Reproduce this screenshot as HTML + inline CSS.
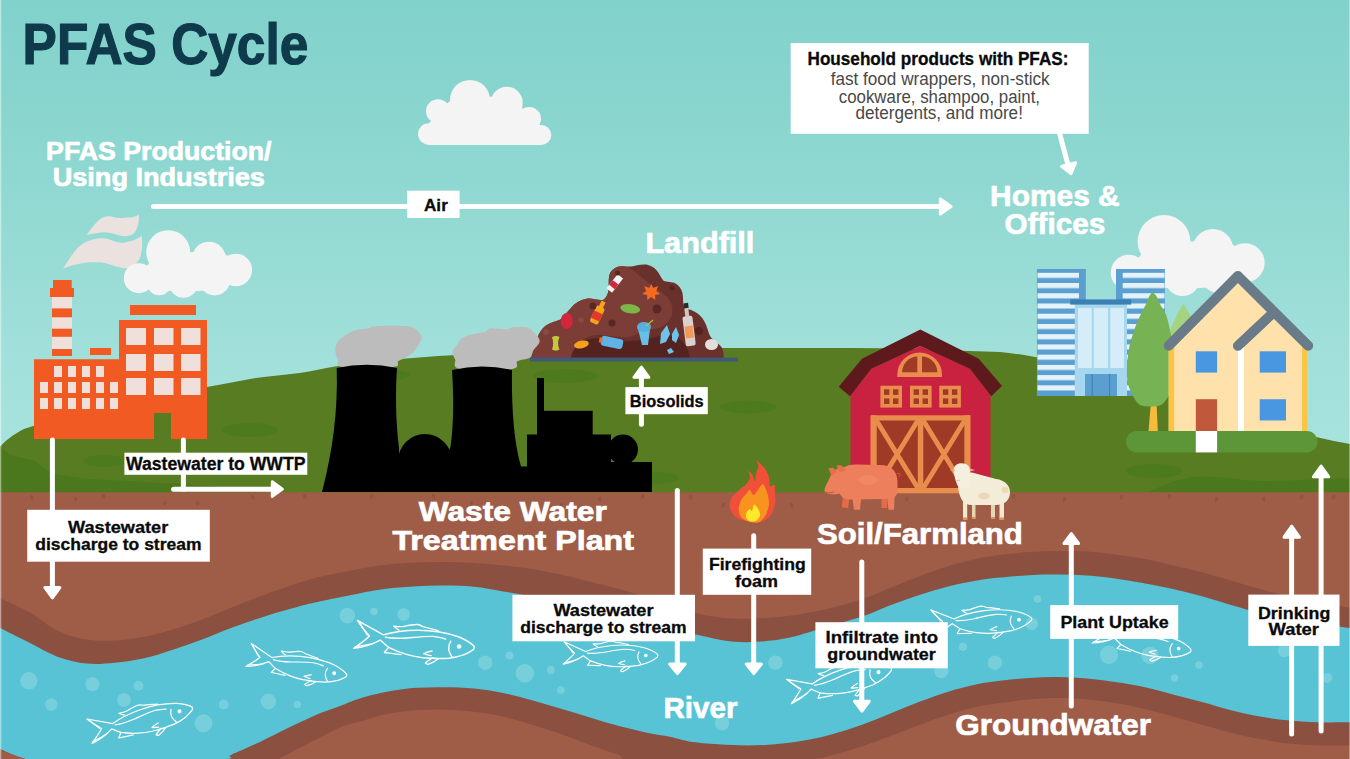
<!DOCTYPE html>
<html>
<head>
<meta charset="utf-8">
<title>PFAS Cycle</title>
<style>
html,body{margin:0;padding:0;background:#8fd8d2;}
body{width:1350px;height:759px;overflow:hidden;font-family:"Liberation Sans",sans-serif;}
svg{display:block;position:absolute;left:0;top:0;}
text{font-family:"Liberation Sans",sans-serif;}
.wb{font-weight:bold;fill:#fff;stroke:#fff;stroke-width:0.7;}
.kb{font-weight:bold;fill:#0a0a0a;stroke:#0a0a0a;stroke-width:0.3;}
.lt{fill:#484848;}
.ar{stroke:#fff;stroke-width:5;fill:none;stroke-linecap:round;}
.ah{fill:#fff;stroke:#fff;stroke-width:3;stroke-linejoin:round;}
</style>
</head>
<body>
<svg width="1350" height="759" viewBox="0 0 1350 759">
<defs>
<linearGradient id="sky" x1="0" y1="0" x2="0" y2="500" gradientUnits="userSpaceOnUse">
<stop offset="0" stop-color="#81d2cb"/>
<stop offset="0.2" stop-color="#88d5ce"/>
<stop offset="0.4" stop-color="#91d9d2"/>
<stop offset="0.6" stop-color="#9cddd7"/>
<stop offset="0.7" stop-color="#a1e0da"/>
<stop offset="1" stop-color="#abe4df"/>
</linearGradient>
<linearGradient id="hillg" x1="0" y1="340" x2="0" y2="495" gradientUnits="userSpaceOnUse">
<stop offset="0" stop-color="#5a7e23"/>
<stop offset="0.5" stop-color="#557c20"/>
<stop offset="1" stop-color="#4a791a"/>
</linearGradient>
</defs>
<rect x="0" y="0" width="1350" height="500" fill="url(#sky)"/>
<g id="hill">
<path d="M0,447 C4,442 12,435.5 21,430.6 C26,428 30,427 34,425.8 C55,419 78,413 100,408 C140,398 175,393 207,387 C222,384 236,382 250,379 C268,376 284,375 300,373 C312,371 324,368.500 335,366.500 C370,361 405,358.500 438,356 C470,354 500,351.500 530,350 C555,349 578,348 600,348 L850,348 C890,348 930,349.500 969,351 C980,351.500 990,351.500 1000,352 C1012,353 1024,355 1035,357 C1058,361 1080,365 1100,370 C1160,385 1250,420 1316,437 C1328,440 1340,442 1350,444 L1350,495 L0,495 Z" fill="#587c21"/>
<!-- darker patches -->
<path d="M0,446 C3,450 7,453 10.5,455 C17,457 25,458 31.6,460 C37,462 41,465 44.3,468.6 C49,472 55,474 60,475 C80,478.5 100,480 117,480.5 C140,481.5 160,483 181,484 C215,486 245,489.5 262,492.5 L0,492.5 Z" fill="#4b771d"/>
<path d="M1148,492.5 C1165,484 1182,477.5 1197,476.5 C1225,476 1240,481 1262,481 C1295,481 1325,478.500 1350,478 L1350,492.5 Z" fill="#4b771d"/>
<g fill="#4e7a1e">
<ellipse cx="250" cy="430" rx="28" ry="7"/>
<ellipse cx="105" cy="461" rx="22" ry="6"/>
<ellipse cx="380" cy="375" rx="30" ry="6"/>
<ellipse cx="565" cy="376" rx="32" ry="7"/>
<ellipse cx="748" cy="407" rx="28" ry="6.500"/>
<ellipse cx="655" cy="478" rx="24" ry="6"/>
<ellipse cx="1115" cy="371" rx="28" ry="8"/>
<ellipse cx="1154" cy="471" rx="28" ry="7"/>
</g>
</g>
<g id="ground">
<rect x="0" y="492.3" width="1350" height="267" fill="#9f5d48"/>
<g fill="#93543f">
<rect x="30" y="495" width="3.2" height="4.5" rx="1"/>
<rect x="74" y="497" width="3.2" height="4.5" rx="1"/>
<rect x="102" y="494" width="3.2" height="4.5" rx="1"/>
<rect x="163" y="501" width="3.2" height="4.5" rx="1"/>
<rect x="196" y="501" width="3.2" height="4.5" rx="1"/>
<rect x="251" y="495" width="3.2" height="4.5" rx="1"/>
<rect x="303" y="494" width="3.2" height="4.5" rx="1"/>
<rect x="370" y="494" width="3.2" height="4.5" rx="1"/>
<rect x="432" y="494" width="3.2" height="4.5" rx="1"/>
<rect x="470" y="501" width="3.2" height="4.5" rx="1"/>
<rect x="560" y="503" width="3.2" height="4.5" rx="1"/>
<rect x="598" y="497" width="3.2" height="4.5" rx="1"/>
<rect x="641" y="494" width="3.2" height="4.5" rx="1"/>
<rect x="689" y="495" width="3.2" height="4.5" rx="1"/>
<rect x="722" y="503" width="3.2" height="4.5" rx="1"/>
<rect x="790" y="503" width="3.2" height="4.5" rx="1"/>
<rect x="846" y="497" width="3.2" height="4.5" rx="1"/>
<rect x="905" y="497" width="3.2" height="4.5" rx="1"/>
<rect x="960" y="495" width="3.2" height="4.5" rx="1"/>
<rect x="1012" y="494" width="3.2" height="4.5" rx="1"/>
<rect x="1063" y="497" width="3.2" height="4.5" rx="1"/>
<rect x="1120" y="495" width="3.2" height="4.5" rx="1"/>
<rect x="1168" y="494" width="3.2" height="4.5" rx="1"/>
<rect x="1215" y="497" width="3.2" height="4.5" rx="1"/>
<rect x="1262" y="497" width="3.2" height="4.5" rx="1"/>
<rect x="1300" y="495" width="3.2" height="4.5" rx="1"/>
<rect x="1332" y="495" width="3.2" height="4.5" rx="1"/>
</g>
</g>
<g id="river">
<path d="M0,598 C4.8,600.3 19.3,606.5 29.0,612.0 C38.7,617.5 48.3,626.4 58.0,631.0 C67.7,635.6 77.5,638.0 87.0,639.6 C96.5,641.2 105.5,640.9 115.0,640.4 C124.5,639.9 134.3,638.5 144.0,636.7 C153.7,634.9 163.3,632.4 173.0,629.5 C182.7,626.6 192.3,623.0 202.0,619.4 C211.7,615.8 221.3,611.6 231.0,607.8 C240.7,603.9 250.3,599.9 260.0,596.3 C269.7,592.7 279.5,589.3 289.0,586.2 C298.5,583.1 305.3,580.4 317.0,577.5 C328.7,574.6 347.2,571.1 359.0,568.9 C370.8,566.7 378.3,565.6 388.0,564.5 C397.7,563.4 407.5,562.9 417.0,562.5 C426.5,562.1 435.5,561.9 445.0,562.0 C454.5,562.1 464.3,562.4 474.0,563.0 C483.7,563.6 493.3,564.4 503.0,565.4 C512.7,566.4 522.3,567.4 532.0,568.9 C541.7,570.4 551.3,572.5 561.0,574.6 C570.7,576.8 580.3,579.4 590.0,581.8 C599.7,584.2 609.5,586.4 619.0,589.0 C628.5,591.6 638.5,595.0 647.0,597.7 C655.5,600.4 661.7,602.4 670.0,605.0 C678.3,607.6 686.7,611.4 697.0,613.6 C707.3,615.9 719.0,617.9 732.0,618.5 C745.0,619.1 760.5,618.6 775.0,617.3 C789.5,616.0 804.5,613.7 819.0,610.7 C833.5,607.7 850.0,603.1 862.0,599.2 C874.0,595.4 881.3,591.5 891.0,587.6 C900.7,583.7 910.3,579.6 920.0,576.0 C929.7,572.4 939.5,568.9 949.0,566.0 C958.5,563.1 968.5,560.6 977.0,558.8 C985.5,557.0 991.3,556.1 1000.0,555.0 C1008.7,553.9 1019.3,552.8 1029.0,552.1 C1038.7,551.4 1048.3,551.1 1058.0,551.0 C1067.7,550.9 1077.5,550.9 1087.0,551.5 C1096.5,552.1 1105.5,553.2 1115.0,554.4 C1124.5,555.6 1134.3,557.0 1144.0,558.8 C1153.7,560.6 1163.3,563.1 1173.0,565.4 C1182.7,567.6 1192.3,569.8 1202.0,572.3 C1211.7,574.8 1221.3,577.6 1231.0,580.4 C1240.7,583.2 1250.5,586.4 1260.0,589.0 C1269.5,591.6 1278.5,594.1 1288.0,596.3 C1297.5,598.5 1306.7,600.1 1317.0,602.0 C1327.3,603.9 1344.5,606.8 1350.0,607.8 L1350,770 L0,770 Z" fill="#8c5040"/>
<path d="M0,628 C4.8,630.4 19.3,637.7 29.0,642.5 C38.7,647.3 48.3,653.4 58.0,656.9 C67.7,660.4 77.5,662.5 87.0,663.5 C96.5,664.5 105.5,663.6 115.0,662.7 C124.5,661.8 134.3,660.5 144.0,658.3 C153.7,656.1 163.3,652.8 173.0,649.7 C182.7,646.6 192.3,643.2 202.0,639.6 C211.7,636.0 221.3,631.6 231.0,628.0 C240.7,624.4 250.3,621.0 260.0,617.9 C269.7,614.8 279.5,611.9 289.0,609.3 C298.5,606.6 305.3,604.6 317.0,602.0 C328.7,599.4 347.2,595.6 359.0,593.4 C370.8,591.1 378.3,589.7 388.0,588.5 C397.7,587.3 407.5,586.7 417.0,586.2 C426.5,585.7 435.5,585.5 445.0,585.6 C454.5,585.7 464.3,585.8 474.0,586.8 C483.7,587.8 492.0,589.5 503.0,591.4 C514.0,593.3 527.2,595.4 540.0,598.0 C552.8,600.6 566.7,603.8 580.0,607.0 C593.3,610.2 606.7,613.7 620.0,617.0 C633.3,620.3 647.2,624.0 660.0,627.0 C672.8,630.0 685.0,632.3 697.0,634.7 C709.0,637.1 721.3,640.5 732.0,641.6 C742.7,642.8 751.3,642.3 761.0,641.6 C770.7,640.9 781.3,639.3 790.0,637.5 C798.7,635.7 801.0,634.5 813.0,631.0 C825.0,627.5 849.0,620.8 862.0,616.5 C875.0,612.2 881.3,608.6 891.0,605.0 C900.7,601.4 910.3,597.9 920.0,594.8 C929.7,591.7 939.5,588.6 949.0,586.2 C958.5,583.8 968.5,581.9 977.0,580.4 C985.5,578.9 991.3,578.4 1000.0,577.5 C1008.7,576.6 1019.3,575.7 1029.0,575.2 C1038.7,574.7 1048.3,574.6 1058.0,574.6 C1067.7,574.6 1077.5,574.9 1087.0,575.5 C1096.5,576.1 1105.5,577.1 1115.0,578.4 C1124.5,579.7 1134.3,581.5 1144.0,583.3 C1153.7,585.1 1163.3,586.8 1173.0,589.0 C1182.7,591.2 1192.3,593.6 1202.0,596.3 C1211.7,599.0 1221.3,602.2 1231.0,605.0 C1240.7,607.8 1250.5,610.7 1260.0,613.0 C1269.5,615.3 1278.5,617.2 1288.0,619.0 C1297.5,620.8 1306.7,622.5 1317.0,624.0 C1327.3,625.5 1344.5,627.3 1350.0,628.0 L1350,770 L0,770 Z" fill="#57c3d4"/>
<path d="M0,749 C2.3,750.0 9.2,753.2 14.0,755.0 C18.8,756.8 11.3,756.7 29.0,760.0 C46.7,763.3 87.8,775.0 120.0,775.0 C152.2,775.0 203.5,763.3 222.0,760.0 C240.5,756.7 224.7,758.0 231.0,755.0 C237.3,752.0 250.3,746.6 260.0,742.0 C269.7,737.4 279.5,732.2 289.0,727.6 C298.5,723.0 308.5,718.2 317.0,714.6 C325.5,711.0 333.0,708.6 340.0,706.0 C347.0,703.4 351.0,701.1 359.0,698.7 C367.0,696.3 378.3,693.3 388.0,691.5 C397.7,689.7 407.5,688.5 417.0,687.8 C426.5,687.1 435.5,687.1 445.0,687.2 C454.5,687.3 464.3,687.6 474.0,688.6 C483.7,689.6 493.3,691.1 503.0,693.0 C512.7,694.9 522.3,697.6 532.0,700.2 C541.7,702.8 551.3,705.9 561.0,708.8 C570.7,711.7 580.3,714.6 590.0,717.5 C599.7,720.4 609.5,723.6 619.0,726.1 C628.5,728.6 638.5,731.0 647.0,732.8 C655.5,734.6 663.0,735.4 670.0,736.8 C677.0,738.2 681.0,740.1 689.0,741.4 C697.0,742.6 708.3,743.6 718.0,744.3 C727.7,745.0 737.5,745.5 747.0,745.5 C756.5,745.5 765.5,745.1 775.0,744.3 C784.5,743.5 794.3,742.3 804.0,740.6 C813.7,738.9 823.3,736.5 833.0,733.9 C842.7,731.2 852.3,728.2 862.0,724.7 C871.7,721.2 881.3,717.1 891.0,713.2 C900.7,709.4 910.3,705.2 920.0,701.6 C929.7,698.0 939.5,694.4 949.0,691.5 C958.5,688.6 968.5,686.1 977.0,684.3 C985.5,682.5 991.3,681.9 1000.0,680.8 C1008.7,679.7 1019.3,678.5 1029.0,677.9 C1038.7,677.3 1048.3,676.9 1058.0,677.0 C1067.7,677.1 1077.5,677.7 1087.0,678.5 C1096.5,679.3 1105.5,680.6 1115.0,682.0 C1124.5,683.4 1134.3,685.0 1144.0,687.1 C1153.7,689.2 1163.3,691.9 1173.0,694.4 C1182.7,696.9 1192.3,699.5 1202.0,702.1 C1211.7,704.7 1221.3,707.8 1231.0,710.2 C1240.7,712.6 1250.5,714.9 1260.0,716.6 C1269.5,718.3 1278.5,719.3 1288.0,720.3 C1297.5,721.2 1306.7,722.0 1317.0,722.3 C1327.3,722.6 1344.5,722.3 1350.0,722.3 L1350,770 L0,770 Z" fill="#8c5040"/>
<path d="M277,760 C279.0,758.9 282.3,757.1 289.0,753.6 C295.7,750.1 308.5,743.3 317.0,739.0 C325.5,734.7 333.0,730.5 340.0,727.6 C347.0,724.7 351.0,724.1 359.0,721.8 C367.0,719.5 378.3,715.6 388.0,713.7 C397.7,711.8 407.5,711.0 417.0,710.3 C426.5,709.6 435.5,709.5 445.0,709.7 C454.5,709.9 464.3,710.6 474.0,711.7 C483.7,712.9 493.3,714.4 503.0,716.6 C512.7,718.8 522.3,721.8 532.0,724.7 C541.7,727.6 551.3,730.5 561.0,733.9 C570.7,737.3 580.3,741.4 590.0,744.9 C599.7,748.4 612.3,752.5 619.0,755.0 C625.7,757.5 613.2,756.7 630.0,760.0 C646.8,763.3 690.0,775.0 720.0,775.0 C750.0,775.0 791.2,763.3 810.0,760.0 C828.8,756.7 824.3,757.3 833.0,755.0 C841.7,752.7 852.3,749.5 862.0,746.3 C871.7,743.1 881.3,739.3 891.0,735.7 C900.7,732.1 910.3,728.2 920.0,724.7 C929.7,721.2 939.5,717.6 949.0,714.6 C958.5,711.6 968.5,708.7 977.0,706.8 C985.5,704.9 991.3,704.2 1000.0,703.0 C1008.7,701.8 1019.3,700.3 1029.0,699.5 C1038.7,698.7 1048.3,698.1 1058.0,698.1 C1067.7,698.1 1077.5,698.7 1087.0,699.5 C1096.5,700.3 1105.5,701.5 1115.0,703.0 C1124.5,704.5 1134.3,706.5 1144.0,708.8 C1153.7,711.1 1163.3,714.0 1173.0,716.6 C1182.7,719.2 1192.3,722.0 1202.0,724.7 C1211.7,727.4 1221.3,730.3 1231.0,732.7 C1240.7,735.1 1250.5,737.3 1260.0,739.1 C1269.5,740.9 1278.5,742.4 1288.0,743.4 C1297.5,744.4 1306.7,745.1 1317.0,745.4 C1327.3,745.7 1344.5,745.4 1350.0,745.4 L1350,770 L277,770 Z" fill="#9f5d48"/>
<path d="M0,750 C5,752 10,754 14,755 L29,760 L0,760 Z" fill="#9f5d48"/>
</g>
<g id="bubbles" fill="#fff" fill-opacity="0.2">
<circle cx="28.9" cy="680.8" r="8.7"/><circle cx="92.4" cy="684.3" r="7"/><circle cx="138.5" cy="685.7" r="5"/><circle cx="51.4" cy="704.5" r="6.3"/><circle cx="203.5" cy="723.3" r="9"/><circle cx="223.7" cy="704.5" r="5"/><circle cx="268.4" cy="701.6" r="7.8"/><circle cx="297.3" cy="704.5" r="3.8"/><circle cx="124" cy="700" r="7"/>
<circle cx="347.3" cy="615.6" r="7.8"/><circle cx="373.9" cy="611.6" r="3.8"/><circle cx="403.6" cy="614.5" r="6.3"/><circle cx="485.3" cy="662.7" r="7.2"/><circle cx="509.5" cy="655.4" r="4"/><circle cx="524.8" cy="673.3" r="9.2"/><circle cx="550.8" cy="669.9" r="4"/><circle cx="560.9" cy="690" r="3.8"/>
<circle cx="775.4" cy="662.7" r="7.2"/><circle cx="722" cy="723.3" r="7.2"/><circle cx="941.4" cy="671.3" r="7"/><circle cx="963" cy="646.8" r="4.3"/><circle cx="994.8" cy="662.7" r="7.2"/>
<circle cx="1037.5" cy="599.1" r="3.8"/><circle cx="1031.7" cy="623.7" r="6.3"/><circle cx="1109" cy="654.8" r="9.2"/><circle cx="1150" cy="655.4" r="8.7"/><circle cx="1199" cy="665" r="3.8"/><circle cx="1174.5" cy="678" r="3.8"/><circle cx="1284.2" cy="651" r="6.3"/><circle cx="1327.5" cy="678" r="5"/>
</g>
<defs>
<g id="fish" fill="none" stroke="#fff" stroke-width="1.4" stroke-linecap="round" stroke-linejoin="round">
<path d="M12.4,10.4 L38.4,24.9 C46,22.500 60,20.300 72.600,20.200 C86,20.200 102,22.500 114.100,27 C121,30 126,33 129.100,36.300 C129.500,37.500 129.200,38.500 128.600,39.400 C126,41.500 123,43 119.300,44.600 C114,46.500 109,47.700 103.700,48.200 C95,48.800 86,48.500 77.800,47.700 C72,47 67,46 62.200,44.600 C55,42.500 49,40 43.600,37.300 C40.500,35 38,32.500 35.300,30.100 C28,34 18,37.500 8.800,38.400 C14,34.500 20,30.500 24.400,25.900 C20,21 16,16 12.400,10.400 Z"/>
<path d="M14,12 L22.300,24.900 M10.400,36.800 C16,36 23,35 29,33.200"/>
<path d="M53.900,20.200 C52,19 50,17.500 48.700,16.100 C52,16.500 55,16.800 58.100,16.600 C63,15.500 68,14.300 72.600,14.500 C75,15 76.500,15.800 77.800,16.600 C83,17.800 88,19.200 93.300,20.700"/>
<path d="M40.400,27.200 C47,28.500 55,28.500 62.200,28 C71,27.200 80,26 88.100,26.400 C93,26.800 97,27.800 100.600,29"/>
<path d="M43.600,37.300 L39.400,42.500 C45,43.200 51,44 56,44.600"/>
<path d="M105.800,31.100 C104,34 103.500,37 103.700,39.400 C104,42 105.500,44.500 106.800,46.700"/>
<path d="M88.100,47.700 C85,49.500 82.500,51 80.400,52.900 C81,53.800 82,54.300 83,54.400 C87,53 90.500,51 93.300,48.700 M87.100,41 C84,41.500 81,42.500 78.800,43.600 C81,44.500 83.500,45.200 86.100,45.600"/>
<circle cx="114.100" cy="36.500" r="2.300" fill="#fff" stroke="none"/>
</g>
</defs>
<g id="fishes">
<use href="#fish" transform="translate(345,610)"/>
<use href="#fish" transform="translate(241.7,633.7) rotate(5.4) scale(0.839)"/>
<use href="#fish" transform="translate(73.6,713.9) rotate(-19.1) scale(0.884)"/>
<use href="#fish" transform="translate(553.7,634.5) rotate(-4.9) scale(0.789)"/>
<use href="#fish" transform="translate(773.2,674.2) rotate(-18.9) scale(0.879)"/>
<use href="#fish" transform="translate(919.1,602.7) rotate(-8.1) scale(0.845)"/>
<use href="#fish" transform="translate(1087.7,610.9) rotate(4.8) scale(0.822)"/>
</g>
<g id="clouds" fill="#f4f4f4">
<!-- cloud 1 top center -->
<g>
<circle cx="470" cy="100" r="20"/><circle cx="506.7" cy="102.7" r="16"/><circle cx="438" cy="111.3" r="12"/>
<circle cx="529.3" cy="118.7" r="11.7"/><circle cx="428.7" cy="134" r="10.7"/><circle cx="541.3" cy="135" r="10"/>
<path d="M428.7,124 L438,111 L450,101 L490.5,96.5 L522,107.5 L529,118 L541.3,126 L541.3,145 L428.7,145 Z"/>
</g>
<!-- cloud 3 behind house -->
<g transform="translate(1164,241.5) scale(1.2) translate(-168.2,-252.2)">
<circle cx="168.2" cy="252.2" r="22"/><circle cx="208.9" cy="258.7" r="17"/><circle cx="235.8" cy="270" r="16.3"/>
<circle cx="138.8" cy="278.2" r="15"/><circle cx="159.2" cy="283.1" r="12.2"/><circle cx="183.6" cy="283.1" r="14.6"/><circle cx="214.6" cy="279.9" r="15.5"/>
<path d="M140,275 L148,264.5 L160,250 L192,252.2 L210,250 L225,254.6 L240,262 L240,280 L214,290 L183,292 L159,290 L140,285 Z"/>
</g>
</g>
<g id="factory">
<!-- smoke swirls -->
<path d="M86.7,235 C92,228 97,220 103.8,217.1 C111,214.5 116,219 121.7,217.9 C129,217 135,218 138.8,214.2 C139.5,221 138,228 134.7,232.6 C131,236.5 126,236.5 121.7,235.9 C115,234.5 110,232 103.8,232.3 C97,232.8 92,234 86.7,235 Z" fill="#ebe1de"/>
<path d="M63,268.8 C69,259 75,249 82.6,244 C90,239.5 97,238 103.8,238.3 C111,239 117,243.5 123.3,242.7 C131,241.5 137,240 141.6,235.6 C143,245 142,254 138.8,260.3 C135,265 131,268 126.6,268.4 C117,268 108,262.5 98.9,262.2 C88,261.8 74,263.5 63,268.8 Z" fill="#ebe1de"/>
<!-- cloud 2 -->
<g fill="#f4f4f4">
<circle cx="168.2" cy="252.2" r="22"/><circle cx="208.9" cy="258.7" r="17"/><circle cx="235.8" cy="270" r="16.3"/>
<circle cx="138.8" cy="278.2" r="15"/><circle cx="159.2" cy="283.1" r="12.2"/><circle cx="183.6" cy="283.1" r="14.6"/><circle cx="214.6" cy="279.9" r="15.5"/>
<path d="M140,275 L148,264.5 L160,250 L192,252.2 L210,250 L225,254.6 L240,262 L240,280 L214,290 L183,292 L159,290 L140,285 Z"/>
</g>
<!-- chimney -->
<rect x="52" y="296" width="20" height="60" fill="#efe0dc"/>
<rect x="52" y="308.4" width="20" height="8.9" fill="#f15a22"/>
<rect x="52" y="328.7" width="20" height="8.1" fill="#f15a22"/>
<rect x="52" y="349" width="20" height="7" fill="#f15a22"/>
<rect x="53" y="280" width="18.7" height="9" fill="#f15a22"/>
<rect x="50" y="288" width="24" height="9" fill="#f15a22"/>
<!-- body -->
<rect x="90" y="348" width="21" height="7" fill="#f15a22"/>
<rect x="130" y="305" width="66" height="10" fill="#f15a22"/>
<path d="M34,359.2 L119,359.2 L119,320 L207,320 L207,439 L171,439 L171,413 L154,413 L154,439 L34,439 Z" fill="#f15a22"/>
<g fill="#efe0dc">
<rect x="126" y="328" width="20" height="17"/><rect x="154" y="328" width="19.5" height="17"/><rect x="181" y="328" width="19.5" height="17"/>
<rect x="126" y="354" width="20" height="17"/><rect x="154" y="354" width="19.5" height="17"/><rect x="181" y="354" width="19.5" height="17"/>
<rect x="126" y="378" width="20" height="17"/><rect x="154" y="378" width="19.5" height="17"/><rect x="181" y="378" width="19.5" height="17"/>
<rect x="54" y="366" width="8" height="11"/><rect x="68" y="366" width="8" height="11"/><rect x="82" y="366" width="8" height="11"/><rect x="96" y="366" width="8" height="11"/>
<rect x="40" y="382" width="8" height="11"/><rect x="54" y="382" width="8" height="11"/><rect x="68" y="382" width="8" height="11"/><rect x="82" y="382" width="8" height="11"/><rect x="96" y="382" width="8" height="11"/><rect x="110" y="382" width="8" height="11"/>
<rect x="40" y="398" width="8" height="11"/><rect x="54" y="398" width="8" height="11"/><rect x="68" y="398" width="8" height="11"/><rect x="82" y="398" width="8" height="11"/><rect x="96" y="398" width="8" height="11"/><rect x="110" y="398" width="8" height="11"/>
</g>
</g>
<g id="landfill">
<path d="M531.7,358 L533.3,350.5 C535,344 536.5,339 538.7,334.5 C541,330.5 543,327.5 546,325.5 C550,323 555,321.5 560.5,319.5 C565,315 568,311 571,308 C575,303 580,300 586.5,298.8 C592,297.5 598,301 603.6,299.7 C607,297 608,293 608.8,289.4 C609,283 608,277 610.5,272.3 C613,268.5 617,266.5 620.8,266.3 C625,266 629,267 632.7,266.3 C637,265 642,264 646.4,264.6 C651,265.5 654,267.5 656.7,270.5 C659.5,273.5 661,278 663.6,280.8 C667,282.5 672,281.5 675.5,283.4 C679,285.5 681.5,289 682.4,292.8 C683.5,297.5 682.5,302.5 684,306.5 C686.5,309.5 691,309.5 694.4,311.6 C699,314 702.5,317.5 704.7,321.9 C707,326 708,331 709.8,335.6 C712,340.5 719,343.5 721.8,347.6 C723.5,351 723.8,354.5 723.5,358 Z" fill="#6a312c"/>
<path d="M531.7,358 L533.3,350.5 C535,344 536.5,339 538.7,334.5 C541,330.5 543,327.5 546,325.5 C550,323 555,321.5 560.5,319.5 C565,315 568,311 571,308 C575,303 580,300 586.5,298.8 C592,297.5 598,301 603.6,299.7 C607,297 608,293 608.8,289.4 C609,283 608,277 610.5,272.3 C613,268.5 617,266.5 620.8,266.3 C626,266 630,268 634,271 C640,276 646,281 653,286 C660,291 668,296 671,303 C674,311 672,319 666,324 C660,329 652,329 645,331 C638,333 634,336 628,337 C618,338.5 606,334 596,335 C586,336 580,341 576,347 C573,351 572,355 571,358 Z" fill="#7c3d37"/>
<path d="M571,358 C572,351 576,345 583,341 C592,337 604,338 614,340 C626,342 640,341 652,338 C662,335.5 668,334 676,337 C684,340 688,348 690,358 Z" fill="#55231f"/>
<rect x="530" y="357.6" width="208" height="3.8" fill="#3f587c"/>
<!-- items -->
<ellipse cx="566.8" cy="321" rx="6" ry="8" fill="#d3263a"/>
<g transform="rotate(25 596.8 316)"><rect x="592.3" y="306" width="9" height="18" rx="2" fill="#f7a21d"/><rect x="594.6" y="300" width="4.4" height="7" fill="#f7a21d"/><rect x="592.3" y="312" width="9" height="8" fill="#e2382c"/></g>
<g transform="rotate(38 614.8 283.4)"><rect x="611.3" y="274.4" width="7" height="18" fill="#f2f2f2"/><rect x="611.3" y="282" width="7" height="6" fill="#d3263a"/></g>
<path d="M651.2,284 l2,4 l5,-2 l-2,5 l4,3 l-5,1 l0,5 l-4,-3 l-4,3 l0,-5 l-5,-1 l4,-3 l-2,-5 l5,2 Z" fill="#f26b21"/>
<ellipse cx="630.2" cy="308.7" rx="10" ry="4.6" transform="rotate(8 630.2 308.7)" fill="#7ab648"/>
<path d="M637.5,327 l13,-2 l-2.5,20 l-6,0 Z" fill="#66bfe6"/><ellipse cx="644" cy="327" rx="7" ry="5" fill="#59aee0"/><path d="M646,326 l7,-6" stroke="#a8c93b" stroke-width="1.2"/>
<g transform="rotate(12 612.2 342.5)"><rect x="601" y="337.5" width="22" height="10" rx="3" fill="#5fb3e6"/><rect x="599" y="340" width="3" height="5" fill="#f26b21"/></g>
<ellipse cx="581.4" cy="344.5" rx="7.5" ry="3.8" transform="rotate(-12 581.4 344.5)" fill="#f7a21d"/>
<path d="M552,337 c3,-1.5 5,-1.5 7.5,0 c-2,4 -2,8 0,12.5 c-2.500,1.500 -5,1.500 -7.500,0 c1.500,-4 1.500,-8 0,-12.500 Z" fill="#c5c83c"/>
<path d="M661,333 l6,-8 l3,9 l-4,8 l-6,2 Z M672,334 l4,-7 l3,8 l-3,8 l-4,-3 Z M667,350 l4,-2 l3,4 l-5,2 Z" fill="#6fc3ea"/>
<g transform="rotate(-7 688.4 327)"><rect x="683.6" y="316" width="10" height="30" rx="2" fill="#d9d2cc"/><rect x="686.6" y="303" width="4" height="14" fill="#cfc7c0"/><rect x="686.2" y="303" width="4.800" height="5" fill="#2b2b2b"/><rect x="684.6" y="326" width="8" height="12" fill="#f29a59"/></g>
<ellipse cx="711.5" cy="344.5" rx="6.5" ry="5.5" fill="#e4dedc"/>
<circle cx="546" cy="332" r="3" fill="#8a4a42"/><circle cx="581" cy="320" r="2.800" fill="#8a4a42"/><circle cx="593" cy="306" r="3.500" fill="#5a2824"/><circle cx="612" cy="323" r="3.500" fill="#5a2824"/><circle cx="657" cy="309" r="4.500" fill="#5a2824"/><circle cx="672" cy="288" r="2.500" fill="#55231f"/><circle cx="699" cy="331" r="4" fill="#55231f"/><circle cx="617.500" cy="273" r="2.500" fill="#5a2824"/>
</g>
<g id="wwtp">
<!-- smoke -->
<g fill="#bcbcbc">
<path d="M335.1,349.7 C335.1,346.8 335.9,344.2 337.8,341.7 C339.7,339.2 343.7,336.5 346.7,334.6 C349.7,332.7 352.1,331.2 355.6,330.1 C359.2,329.1 365.1,328.9 368.0,328.3 C370.9,327.7 369.6,327.0 373.3,326.6 C377.0,326.2 384.1,325.8 390.0,325.8 C395.9,325.8 404.4,325.9 408.9,326.6 C413.4,327.3 414.8,328.3 416.9,330.1 C419.0,331.9 421.4,334.8 421.7,337.2 C422.0,339.6 419.9,341.9 418.7,344.3 C417.4,346.7 416.4,349.2 414.2,351.4 C412.0,353.6 408.0,356.1 405.3,357.7 C402.6,359.3 400.3,359.6 398.2,361.2 C396.1,362.8 402.1,366.0 392.9,367.0 C383.7,368.0 352.3,368.3 343.1,367.0 C333.9,365.7 339.1,362.3 337.8,359.4 C336.5,356.5 335.1,352.6 335.1,349.7 Z"/>
<path d="M452.4,351.4 C452.7,349.0 455.3,347.4 456.9,345.2 C458.5,343.0 459.2,340.0 462.2,338.1 C465.2,336.2 470.8,334.7 474.7,333.7 C478.6,332.7 482.6,332.8 485.3,331.9 C488.0,331.0 487.1,328.8 490.7,328.3 C494.3,327.9 502.9,329.4 506.7,329.2 C510.5,329.0 510.2,327.4 513.8,327.1 C517.3,326.8 524.3,326.1 528.0,327.4 C531.7,328.6 534.1,332.2 536.0,334.6 C537.9,337.0 540.1,339.0 539.6,341.7 C539.1,344.4 534.9,347.9 533.3,350.6 C531.7,353.3 532.5,355.9 529.8,357.7 C527.1,359.5 520.3,359.3 517.3,361.2 C514.3,363.1 521.5,367.7 512.0,369.0 C502.5,370.3 469.9,370.6 460.4,369.0 C450.9,367.4 456.4,362.3 455.1,359.4 C453.8,356.5 452.1,353.8 452.4,351.4 Z"/>
</g>
<g fill="#000">
<path d="M336.7,368 Q367,361.500 397,368 C395.5,390 395.5,420 399,448 L399,492 L322,492 C333,450 338,410 336.7,368 Z"/>
<path d="M452,370 Q482,363 512,370 C511.5,400 513,440 521,466.5 L652,466.5 L652,492 L440,492 L440,470 L450.5,447 C453.5,425 454,400 452,370 Z"/>
<circle cx="425" cy="461" r="27"/>
<rect x="395" y="461" width="60" height="31"/>
<rect x="537" y="378" width="7" height="60"/>
<rect x="537" y="410.8" width="55.7" height="60"/>
<rect x="527" y="434.5" width="84" height="40"/>
<circle cx="623" cy="449.5" r="15"/>
<rect x="600" y="462" width="52" height="30"/>
</g>
</g>
<g id="barn">
<path d="M850.5,492.500 L850.5,395 L871.3,368.7 L920.5,346 L970,368.7 L990.5,395 L990.5,492.500 Z" fill="#c92240"/>
<path d="M838.7,386.7 L862,358.7 L920.3,329.6 L978.7,358.7 L1002,386 L991.3,396.300 L970,368.7 L920.3,346 L871.3,368.7 L850,396.300 Z" fill="#5e191c"/>
<!-- arch window -->
<path d="M897.3,377 L897.300,374.500 A22.350,22 0 0 1 942,374.500 L942,377 Z" fill="#e88d4c"/>
<path d="M902,372.300 A15.500,16.500 0 0 1 917.300,356.500 L917.300,372.300 Z" fill="#9f3a27"/>
<path d="M937.400,372.300 A15.500,16.500 0 0 0 922,356.500 L922,372.300 Z" fill="#9f3a27"/>
<!-- small windows -->
<g fill="#e88d4c"><rect x="880.4" y="385.7" width="21.600" height="21.900"/><rect x="910" y="385.7" width="21.600" height="21.900"/><rect x="939.3" y="385.7" width="21.600" height="21.900"/></g>
<g fill="#9f3a27">
<rect x="884" y="389.300" width="5.400" height="5.600"/><rect x="893" y="389.300" width="5.400" height="5.600"/><rect x="884" y="398.400" width="5.400" height="5.600"/><rect x="893" y="398.400" width="5.400" height="5.600"/>
<rect x="913.600" y="389.300" width="5.400" height="5.600"/><rect x="922.600" y="389.300" width="5.400" height="5.600"/><rect x="913.600" y="398.400" width="5.400" height="5.600"/><rect x="922.600" y="398.400" width="5.400" height="5.600"/>
<rect x="942.900" y="389.300" width="5.400" height="5.600"/><rect x="951.900" y="389.300" width="5.400" height="5.600"/><rect x="942.900" y="398.400" width="5.400" height="5.600"/><rect x="951.900" y="398.400" width="5.400" height="5.600"/>
</g>
<!-- door -->
<rect x="870.700" y="415.300" width="99.600" height="78" fill="#e88d4c"/>
<rect x="876.500" y="420.500" width="41.300" height="67.500" fill="#9f3a27"/>
<rect x="923.300" y="420.500" width="41.300" height="67.500" fill="#9f3a27"/>
<g stroke="#e88d4c" stroke-width="4.800" fill="none">
<path d="M876.500,420.500 L917.800,488 M917.800,420.500 L876.500,488 M923.300,420.500 L964.600,488 M964.600,420.500 L923.300,488"/>
</g>
<rect x="870.700" y="488" width="99.600" height="5" fill="#e88d4c"/>
<rect x="870.700" y="415.300" width="5.800" height="78" fill="#e88d4c"/><rect x="964.600" y="415.300" width="5.700" height="78" fill="#e88d4c"/>
</g>
<g id="offices">
<defs>
<pattern id="stripes" x="0" y="272.800" width="10" height="10.230" patternUnits="userSpaceOnUse">
<rect x="0" y="0" width="10" height="5.100" fill="#e4f2fa"/>
</pattern>
</defs>
<!-- left tower -->
<rect x="1036.900" y="269" width="48.900" height="127" fill="#5a9fd0"/>
<rect x="1037.500" y="272" width="41.500" height="122" fill="url(#stripes)"/>
<!-- right tower -->
<rect x="1116" y="269" width="48.900" height="127" fill="#5a9fd0"/>
<rect x="1122.700" y="272" width="41.800" height="122" fill="url(#stripes)"/>
<!-- middle -->
<rect x="1074.800" y="304" width="52.200" height="92" fill="#a6d7ee"/>
<rect x="1070.200" y="299.400" width="61" height="5.200" fill="#3c7fb3"/>
<g fill="#d5edf8"><rect x="1078" y="308" width="13.700" height="60"/><rect x="1093.800" y="308" width="14.200" height="60"/><rect x="1110.300" y="308" width="13.700" height="60"/></g>
<rect x="1085" y="374" width="32" height="22" fill="#5a9fd0"/>
<path d="M1092.200,374 V396 M1109.600,374 V396" stroke="#3c7fb3" stroke-width="1"/>
</g>
<g id="tree">
<path d="M1183.500,303.800 C1193,318 1204,345 1205,365 L1162,365 C1163,345 1174,318 1183.500,303.800 Z" fill="#a6d37f"/>
<path d="M1151,402 L1148.500,431 L1157.800,431 L1156.500,402 Z" fill="#f6bb38"/>
<path d="M1152.5,292.2 C1156,294 1158,298 1159.2,302.7 C1162,308 1164,310 1165.5,313.3 C1168,320 1169.5,327 1170.8,334.4 C1172.5,341 1173.3,348 1173.6,355.5 C1174.2,362 1174.5,370 1174,376.6 C1173.5,383 1172.5,388.5 1169.8,393.4 C1167,399 1164,403 1161,405 C1156,407 1146,407 1140,405 C1136,402 1134,398 1131.8,393.4 C1128.5,388 1127.3,383 1127,376.6 C1126.7,370 1127,362 1128,355.5 C1128.8,348 1130.5,341 1132.8,334.4 C1135,327 1138,320 1141.3,313.3 C1143,309.5 1145,306.5 1146.6,302.7 C1148,298 1150,294 1152.5,292.2 Z" fill="#77b255"/>
</g>
<g id="house">
<rect x="1126" y="431" width="191.600" height="21.400" rx="10.700" fill="#5d9639"/>
<path d="M1168.700,431 L1168.700,345.800 L1237.900,279 L1307.600,345.800 L1307.600,431 Z" fill="#ffe2ab"/>
<rect x="1168.700" y="346" width="5.500" height="85" fill="#fbc441"/>
<rect x="1302.100" y="346" width="5.500" height="85" fill="#fbc441"/>
<rect x="1238" y="346" width="6" height="85" fill="#fff"/>
<path d="M1168.700,345.800 L1237.900,276 L1308.200,345.800 M1237.900,345.800 L1273.300,312.600" stroke="#697b88" stroke-width="10" stroke-linecap="round" stroke-linejoin="round" fill="none"/>
<g fill="#4a97e1"><rect x="1195.800" y="351.300" width="21.300" height="21.300"/><rect x="1259.700" y="351.300" width="26.300" height="21.300"/><rect x="1259.700" y="399.200" width="26.300" height="21.300"/></g>
<rect x="1195.800" y="399.200" width="21.300" height="31.800" fill="#c0593c"/>
<rect x="1195.800" y="431" width="21.300" height="21.400" fill="#fff"/>
</g>
<g id="fire">
<path d="M754.0,522.9 C750.4,522.5 739.1,519.5 736.1,517.5 C733.1,515.5 730.3,509.4 729.8,506.9 C729.2,504.4 730.7,499.5 731.9,497.4 C733.1,495.3 737.5,491.6 739.2,490.1 C741.0,488.5 744.2,486.2 745.6,484.8 C746.9,483.3 749.4,480.0 749.8,478.5 C750.2,476.9 749.4,473.7 748.9,472.7 C748.5,471.6 745.7,470.2 746.1,470.3 C746.5,470.5 750.8,472.4 751.9,473.7 C753.0,475.1 754.3,481.0 754.8,481.1 C755.4,481.2 755.7,476.2 756.1,474.2 C756.6,472.3 758.4,467.5 758.4,465.8 C758.5,464.1 755.7,460.1 756.4,460.3 C757.2,460.6 763.0,465.9 764.5,467.9 C766.1,469.9 768.1,474.1 768.8,476.4 C769.4,478.6 769.3,485.0 770.0,486.0 C770.7,487.1 773.9,484.0 774.6,485.0 C775.2,486.0 774.8,492.1 774.9,494.3 C775.0,496.5 775.7,500.3 775.3,502.7 C774.9,505.1 773.3,511.0 771.9,513.2 C770.6,515.5 766.8,519.4 764.5,520.6 C762.3,521.8 757.6,523.3 754.0,522.9 Z" fill="#f0503a"/>
<path d="M749.8,489.8 C750.6,490.1 752.5,495.0 753.5,495.1 C754.4,495.3 756.0,492.5 757.2,491.1 C758.3,489.7 761.6,483.5 763.0,483.9 C764.3,484.3 766.9,491.7 767.7,494.3 C768.5,496.9 769.2,502.2 769.0,504.8 C768.7,507.4 766.8,513.2 765.6,515.3 C764.4,517.5 761.2,521.1 759.3,521.9 C757.3,522.7 752.0,522.4 749.8,521.9 C747.5,521.3 742.7,519.1 741.4,517.5 C740.0,515.8 738.7,511.3 738.7,509.0 C738.7,506.8 740.4,501.5 741.4,499.5 C742.3,497.6 745.6,494.4 746.6,493.2 C747.7,492.0 748.9,489.6 749.8,489.8 Z" fill="#f7931e"/>
<path d="M754.2,504.6 C755.1,504.5 758.0,508.7 758.7,510.1 C759.5,511.4 760.4,514.2 760.1,515.6 C759.8,516.9 757.6,520.1 756.3,520.8 C755.0,521.5 751.1,521.7 749.8,521.3 C748.5,520.8 746.5,518.6 746.1,517.5 C745.7,516.3 746.2,513.2 746.6,512.2 C747.1,511.1 749.1,509.2 749.8,509.0 C750.4,508.9 751.3,511.7 751.9,511.1 C752.4,510.6 753.4,504.7 754.2,504.6 Z" fill="#fde82c"/>
</g>
<g id="pig">
<rect x="843" y="496" width="6.500" height="12" fill="#e56a48" transform="rotate(6 846 496)"/>
<rect x="881.500" y="494" width="5.500" height="14" fill="#e56a48"/>
<path d="M838,478 C838,469 845,464.500 856,464.500 L880,465 C892,465 897.500,472 897.500,482 L897.500,490 C897.500,496 894,499 888,499 L850,499.500 C842,499.500 838,494 838,486 Z" fill="#ee7f5c"/>
<path d="M846,467 C839,466.500 833,470 830,477 C828,482 824.500,487 824.500,490.500 C825,493.500 830,495 837,494 C845,493 850,487 851,480 Z" fill="#ee7f5c"/>
<path d="M831.500,476 L828.500,468.500 L833,467.500 L837,472 Z M839,472 L836.500,465 L841.500,465.500 L846.500,470.500 Z" fill="#e8704f"/>
<path d="M852.200,497 L861.300,497 L860,509.700 L854,509.700 Z" fill="#ee7f5c"/>
<path d="M887,496 L894.700,496 L894,509.700 L888.500,509.700 Z" fill="#ee7f5c"/>
<path d="M826,492 C829,493.500 832,493 834,491.500" stroke="#b84a33" stroke-width="0.800" fill="none"/>
<path d="M896.500,474 c3.500,-2.500 5,1.500 2,2.500" stroke="#e05a40" stroke-width="1" fill="none"/>
<ellipse cx="868" cy="480" rx="9" ry="5" fill="#f08d68" opacity="0.600"/>
</g>
<g id="sheep">
<rect x="972" y="500" width="3.500" height="18.500" fill="#e4d5b4"/><rect x="991" y="500" width="4" height="18.500" fill="#e4d5b4"/>
<rect x="963" y="498" width="4.200" height="21.500" fill="#f1e8cf"/><rect x="999.500" y="498" width="4.500" height="21.500" fill="#f1e8cf"/>
<rect x="963" y="517.500" width="4.200" height="2" fill="#ee8a5a"/><rect x="999.500" y="517.500" width="4.500" height="2" fill="#ee8a5a"/><rect x="972" y="517" width="3.500" height="1.500" fill="#ee8a5a"/><rect x="991" y="517" width="4" height="1.500" fill="#ee8a5a"/>
<path d="M958,486 C956,476 962,472 972,472.500 L996,479 C1005,480 1010.500,486 1010,493 C1009.500,501 1004,505 996,505 L972,505 C963,505 959,498 958,486 Z" fill="#f3ecd9"/>
<path d="M954,474 C952.500,468 955,463.500 961,463.300 C967,463.200 970.500,466 970,472 C970,478 972,484 968,488 C963,490 958,488 956.500,483 C955.500,480 954.500,477 954,474 Z" fill="#f5efdf"/>
<path d="M949.500,470 L954.500,469 L954.500,471.500 Z M975,470 L970,468.500 L970,471.500 Z" fill="#e9a98a"/>
<ellipse cx="984" cy="496" rx="6" ry="3.500" fill="#ead9b4"/><ellipse cx="1005" cy="490" rx="3.500" ry="3" fill="#ead9b4"/>
<path d="M955,480 c2,1 4,1 5,0" stroke="#c9b58d" stroke-width="0.700" fill="none"/>
</g>
<g id="arrows">
<path class="ar" d="M153.5,206.6 L940.0,206.6"/>
<path class="ah" d="M940.3,198.9 L940.3,214.1 L951.1,206.5 Z"/>
<path class="ar" d="M1059.7,133.8 L1067.5,163.0"/>
<path class="ah" d="M1061.5,166.4 L1075.6,162.8 L1071,173.6 Z"/>
<path class="ar" d="M52.4,440.0 L52.4,588.0"/>
<path class="ah" d="M44.9,587.5 L59.9,587.5 L52.4,597.8 Z"/>
<path class="ar" d="M183.4,440.0 L183.4,489.2"/>
<path class="ar" d="M173.6,489.2 L272.0,489.2"/>
<path class="ah" d="M272.3,481.8 L272.3,496.4 L282.4,489.1 Z"/>
<path class="ar" d="M677.3,490.6 L677.3,664.0"/>
<path class="ah" d="M669.6,664.1 L685.2,664.1 L677.4,673.6 Z"/>
<path class="ar" d="M753.7,535.7 L753.7,664.0"/>
<path class="ah" d="M746.2,664.1 L761.4,664.1 L753.8,673.6 Z"/>
<path class="ar" d="M861.8,562.0 L861.8,701.0"/>
<path class="ah" d="M854.4,701.2 L869.4,701.2 L861.9,711.1 Z"/>
<path class="ar" d="M1071.3,706.0 L1071.3,544.0"/>
<path class="ah" d="M1064.0,543.5 L1078.6,543.5 L1071.3,533.6 Z"/>
<path class="ar" d="M1291.6,734.0 L1291.6,537.0"/>
<path class="ah" d="M1284.0,537.2 L1299.4,537.2 L1291.7,526.2 Z"/>
<path class="ar" d="M1321.1,731.0 L1321.1,477.0"/>
<path class="ah" d="M1313.4,476.8 L1328.8,476.8 L1321.1,466.0 Z"/>
<path class="ar" d="M641.4,424.2 L641.4,378.0"/>
<path class="ah" d="M633.9,377.3 L648.9,377.3 L641.4,367.2 Z"/>
</g>
<g id="labels">
<text class="wb" x="22.6" y="63.8" font-size="57.5" textLength="285.7" lengthAdjust="spacingAndGlyphs" style="fill:#0f3a4b;stroke:#0f3a4b;stroke-width:1.2">PFAS Cycle</text>
<text class="wb" x="46.1" y="160.3" font-size="26" textLength="225.4" lengthAdjust="spacingAndGlyphs">PFAS Production/</text>
<text class="wb" x="52.7" y="186.0" font-size="26" textLength="212.2" lengthAdjust="spacingAndGlyphs">Using Industries</text>
<text class="wb" x="645.4" y="253.0" font-size="30" textLength="109.0" lengthAdjust="spacingAndGlyphs">Landfill</text>
<text class="wb" x="990.1" y="206.0" font-size="30" textLength="129.6" lengthAdjust="spacingAndGlyphs">Homes &amp;</text>
<text class="wb" x="1004.6" y="233.8" font-size="30" textLength="100.6" lengthAdjust="spacingAndGlyphs">Offices</text>
<text class="wb" x="418.7" y="521.3" font-size="28.5" textLength="188.1" lengthAdjust="spacingAndGlyphs">Waste Water</text>
<text class="wb" x="392.4" y="550.3" font-size="28.5" textLength="241.6" lengthAdjust="spacingAndGlyphs">Treatment Plant</text>
<text class="wb" x="817.0" y="544.4" font-size="30" textLength="205.9" lengthAdjust="spacingAndGlyphs">Soil/Farmland</text>
<text class="wb" x="663.5" y="718.0" font-size="30" textLength="74.0" lengthAdjust="spacingAndGlyphs">River</text>
<text class="wb" x="955.3" y="734.8" font-size="30" textLength="195.6" lengthAdjust="spacingAndGlyphs">Groundwater</text>
<rect x="407.2" y="190.7" width="52.4" height="27.3" fill="#fff"/>
<text class="kb" x="424.0" y="210.9" font-size="17" textLength="23.8" lengthAdjust="spacingAndGlyphs">Air</text>
<rect x="790.7" y="43.0" width="298.0" height="90.8" fill="#fff"/>
<text class="kb" x="807.5" y="64.8" font-size="17.5" textLength="260.9" lengthAdjust="spacingAndGlyphs">Household products with PFAS:</text>
<text class="lt" x="830.7" y="85.0" font-size="17.5" textLength="218.9" lengthAdjust="spacingAndGlyphs">fast food wrappers, non-stick</text>
<text class="lt" x="838.8" y="102.5" font-size="17.5" textLength="201.2" lengthAdjust="spacingAndGlyphs">cookware, shampoo, paint,</text>
<text class="lt" x="855.4" y="119.0" font-size="17.5" textLength="167.5" lengthAdjust="spacingAndGlyphs">detergents, and more!</text>
<rect x="625.4" y="387.1" width="82.4" height="27.1" fill="#fff"/>
<text class="kb" x="629.8" y="406.5" font-size="17" textLength="73.9" lengthAdjust="spacingAndGlyphs">Biosolids</text>
<rect x="124.4" y="452.7" width="182.9" height="22.1" fill="#fff"/>
<text class="kb" x="126.0" y="470.3" font-size="18" textLength="179.5" lengthAdjust="spacingAndGlyphs">Wastewater to WWTP</text>
<rect x="27.2" y="509.8" width="182.6" height="51.9" fill="#fff"/>
<text class="kb" x="68.0" y="533.3" font-size="16.5" textLength="100.3" lengthAdjust="spacingAndGlyphs">Wastewater</text>
<text class="kb" x="35.3" y="550.4" font-size="16.5" textLength="166.2" lengthAdjust="spacingAndGlyphs">discharge to stream</text>
<rect x="512.4" y="594.8" width="182.6" height="46.5" fill="#fff"/>
<text class="kb" x="553.4" y="615.5" font-size="16.5" textLength="100.1" lengthAdjust="spacingAndGlyphs">Wastewater</text>
<text class="kb" x="520.2" y="632.7" font-size="16.5" textLength="166.5" lengthAdjust="spacingAndGlyphs">discharge to stream</text>
<rect x="702.8" y="548.6" width="108.4" height="46.2" fill="#fff"/>
<text class="kb" x="708.9" y="569.9" font-size="16.5" textLength="96.8" lengthAdjust="spacingAndGlyphs">Firefighting</text>
<text class="kb" x="735.1" y="586.5" font-size="16.5" textLength="42.9" lengthAdjust="spacingAndGlyphs">foam</text>
<rect x="815.4" y="622.2" width="132.4" height="46.1" fill="#fff"/>
<text class="kb" x="825.6" y="643.3" font-size="16.5" textLength="112.6" lengthAdjust="spacingAndGlyphs">Infiltrate into</text>
<text class="kb" x="827.3" y="659.7" font-size="16.5" textLength="108.5" lengthAdjust="spacingAndGlyphs">groundwater</text>
<rect x="1050.2" y="605.1" width="128.0" height="33.8" fill="#fff"/>
<text class="kb" x="1060.4" y="628.0" font-size="16.5" textLength="108.2" lengthAdjust="spacingAndGlyphs">Plant Uptake</text>
<rect x="1248.3" y="594.6" width="91.2" height="51.3" fill="#fff"/>
<text class="kb" x="1258.0" y="618.6" font-size="16.5" textLength="72.3" lengthAdjust="spacingAndGlyphs">Drinking</text>
<text class="kb" x="1268.5" y="635.4" font-size="16.5" textLength="50.4" lengthAdjust="spacingAndGlyphs">Water</text>
</g>
<g id="edge" fill="#fff" fill-opacity="0.45"><rect x="0" y="0" width="1.3" height="759"/><rect x="1349.2" y="0" width="0.8" height="759"/></g>
</svg>
</body>
</html>
